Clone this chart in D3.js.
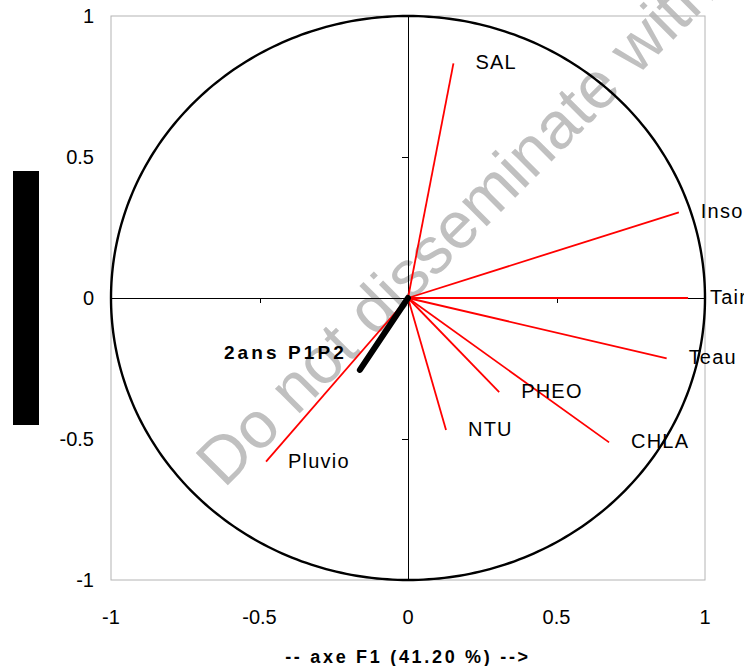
<!DOCTYPE html>
<html>
<head>
<meta charset="utf-8">
<script src="https://cdn.jsdelivr.net/npm/d3@7/dist/d3.min.js"></script>
<style>
  html, body { margin: 0; padding: 0; background: #ffffff; }
  svg { display: block; font-family: "Liberation Sans", Arial, sans-serif; }
</style>
</head>
<body>
<svg id="chart" width="744" height="666"></svg>
<script>
// Active variables: coordinates on factorial axes F1 / F2
const variables = ["SAL", "Insol", "Tair", "Teau", "PHEO", "NTU", "CHLA", "Pluvio"];
const f1Values  = [0.153, 0.912, 0.943, 0.871, 0.307, 0.128, 0.677, -0.478];
const f2Values  = [0.832, 0.304, 0.000, -0.214, -0.334, -0.468, -0.512, -0.580];

// Supplementary variable
const suppName = "2ans P1P2";
const suppF1 = -0.162;
const suppF2 = -0.255;

const xTicks = [-1, -0.5, 0, 0.5, 1];
const yTicks = [-1, -0.5, 0, 0.5, 1];
const xTitle = "-- axe F1 (41.20 %) -->";
const watermark = "Do not disseminate without permission";

const svg = d3.select("#chart");

const x = d3.scaleLinear().domain([-1, 1]).range([111, 705]);
const y = d3.scaleLinear().domain([-1, 1]).range([580, 16]);

// Watermark behind everything
svg.append("text")
  .attr("transform", "translate(224,489) rotate(-45)")
  .attr("font-size", 66)
  .attr("fill", "#c0c0c0")
  .text(watermark);

// Plot frame
svg.append("rect")
  .attr("x", x(-1)).attr("y", y(1))
  .attr("width", x(1) - x(-1)).attr("height", y(-1) - y(1))
  .attr("fill", "none").attr("stroke", "#b4b4b4").attr("stroke-width", 1);

// Correlation circle
const circlePts = d3.range(0, 361, 1).map(a => [Math.cos(a * Math.PI / 180), Math.sin(a * Math.PI / 180)]);
svg.append("path")
  .attr("d", d3.line().x(d => x(d[0])).y(d => y(d[1]))(circlePts))
  .attr("fill", "none").attr("stroke", "#000").attr("stroke-width", 2.4);

// Axes through origin
const xAxis = d3.axisBottom(x).tickValues([-0.5, 0.5]).tickSize(5).tickFormat("");
const gx = svg.append("g").attr("transform", `translate(0,${y(0)})`).call(xAxis);
gx.select(".domain").attr("d", `M${x(-1)},0H${x(1)}`);
const yAxis = d3.axisLeft(y).tickValues([-0.5, 0.5]).tickSize(6).tickFormat("");
const gy = svg.append("g").attr("transform", `translate(${x(0)},0)`).call(yAxis);
gy.select(".domain").attr("d", `M0,${y(-1)}V${y(1)}`);
svg.selectAll(".domain, .tick line").attr("stroke", "#000").attr("stroke-width", 1).attr("shape-rendering", "crispEdges");

// Tick labels
const fmt = d => d === 0 ? "0" : String(d);
svg.append("g").selectAll("text").data(xTicks).join("text")
  .attr("x", d => x(d)).attr("y", 617).attr("dy", "0.35em")
  .attr("text-anchor", "middle").attr("font-size", 20).attr("fill", "#000")
  .text(fmt);
svg.append("g").selectAll("text").data(yTicks).join("text")
  .attr("x", 94).attr("y", d => y(d)).attr("dy", "0.35em")
  .attr("text-anchor", "end").attr("font-size", 20).attr("fill", "#000")
  .text(fmt);

// Variable vectors
const rows = variables.map((v, i) => ({ name: v, f1: f1Values[i], f2: f2Values[i] }));
svg.append("g").selectAll("line").data(rows).join("line")
  .attr("x1", x(0)).attr("y1", y(0))
  .attr("x2", d => x(d.f1)).attr("y2", d => y(d.f2))
  .attr("stroke", "#ff0000").attr("stroke-width", 1.8);

svg.append("g").selectAll("text").data(rows).join("text")
  .attr("x", d => x(d.f1) + 22).attr("y", d => y(d.f2) - 1).attr("dy", "0.35em")
  .attr("font-size", 20).attr("letter-spacing", 1.2).attr("fill", "#000")
  .text(d => d.name);

// Supplementary vector
svg.append("line")
  .attr("x1", x(0)).attr("y1", y(0))
  .attr("x2", x(suppF1)).attr("y2", y(suppF2))
  .attr("stroke", "#000").attr("stroke-width", 6).attr("stroke-linecap", "round");
svg.append("text")
  .attr("x", x(suppF1) - 13).attr("y", y(suppF2) - 18).attr("dy", "0.35em")
  .attr("text-anchor", "end").attr("font-size", 19).attr("font-weight", "bold")
  .attr("letter-spacing", 3.1).attr("fill", "#000")
  .text(suppName);

// Axis title
svg.append("text")
  .attr("x", x(0)).attr("y", 657).attr("dy", "0.35em")
  .attr("text-anchor", "middle").attr("font-size", 18).attr("font-weight", "bold")
  .attr("letter-spacing", 2.7).attr("fill", "#000")
  .text(xTitle);

// Masked vertical axis title
svg.append("rect")
  .attr("x", 13).attr("y", 171).attr("width", 26).attr("height", 254)
  .attr("fill", "#000");
</script>
</body>
</html>
